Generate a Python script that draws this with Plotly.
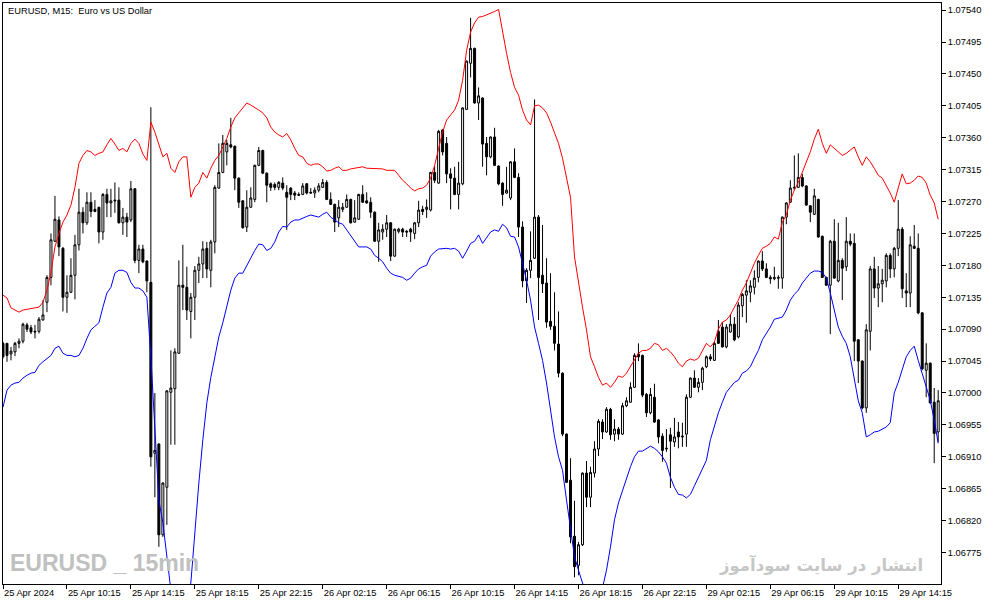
import plotly.graph_objects as go

# ---- data (EURUSD M15) ----
open_ = [1.07070, 1.07070, 1.07055, 1.07058, 1.07070, 1.07073, 1.07096, 1.07092, 1.07087, 1.07087,
         1.07103, 1.07128, 1.07163, 1.07214, 1.07244, 1.07204, 1.07135, 1.07142, 1.07166, 1.07209,
         1.07255, 1.07240, 1.07269, 1.07259, 1.07262, 1.07227, 1.07280, 1.07268, 1.07272, 1.07272,
         1.07240, 1.07248, 1.07244, 1.07288, 1.07187, 1.07203, 1.07186, 1.07156, 1.06915, 1.06928,
         1.06800, 1.06867, 1.07001, 1.07006, 1.07056, 1.07152, 1.07149, 1.07115, 1.07135, 1.07173,
         1.07182, 1.07204, 1.07173, 1.07213, 1.07289, 1.07311, 1.07340, 1.07350, 1.07348, 1.07303,
         1.07271, 1.07234, 1.07262, 1.07273, 1.07321, 1.07342, 1.07310, 1.07295, 1.07294, 1.07290,
         1.07296, 1.07283, 1.07289, 1.07282, 1.07280, 1.07280, 1.07295, 1.07283, 1.07282, 1.07286,
         1.07290, 1.07297, 1.07273, 1.07266, 1.07247, 1.07259, 1.07262, 1.07273, 1.07241, 1.07245,
         1.07280, 1.07271, 1.07269, 1.07255, 1.07214, 1.07227, 1.07231, 1.07240, 1.07193, 1.07228,
         1.07231, 1.07228, 1.07231, 1.07225, 1.07240, 1.07259, 1.07259, 1.07258, 1.07311, 1.07296,
         1.07371, 1.07352, 1.07309, 1.07303, 1.07280, 1.07295, 1.07400, 1.07465, 1.07486, 1.07409,
         1.07416, 1.07352, 1.07333, 1.07361, 1.07320, 1.07296, 1.07282, 1.07275, 1.07326, 1.07304,
         1.07234, 1.07158, 1.07173, 1.07190, 1.07248, 1.07166, 1.07155, 1.07101, 1.07094, 1.07069,
         1.07028, 1.06942, 1.06877, 1.06798, 1.06757, 1.06786, 1.06887, 1.06853, 1.06887, 1.06921,
         1.06959, 1.06945, 1.06977, 1.06942, 1.06949, 1.06942, 1.06982, 1.06987, 1.07008, 1.07055,
         1.07053, 1.06998, 1.06972, 1.06994, 1.06962, 1.06939, 1.06921, 1.06941, 1.06931, 1.06945,
         1.06938, 1.06942, 1.06994, 1.07021, 1.07008, 1.07015, 1.07037, 1.07051, 1.07046, 1.07087,
         1.07093, 1.07065, 1.07086, 1.07097, 1.07079, 1.07123, 1.07138, 1.07142, 1.07149, 1.07163,
         1.07186, 1.07175, 1.07163, 1.07161, 1.07163, 1.07162, 1.07248, 1.07269, 1.07289, 1.07290,
         1.07304, 1.07292, 1.07264, 1.07252, 1.07273, 1.07221, 1.07163, 1.07152, 1.07214, 1.07158,
         1.07187, 1.07178, 1.07214, 1.07211, 1.07075, 1.07045, 1.06979, 1.07087, 1.07175, 1.07148,
         1.07154, 1.07158, 1.07194, 1.07175, 1.07204, 1.07231, 1.07144, 1.07141, 1.07207, 1.07204,
         1.07113, 1.07032, 1.07042, 1.06987, 1.06945]

high = [1.07072, 1.07070, 1.07065, 1.07072, 1.07077, 1.07099, 1.07099, 1.07096, 1.07096, 1.07107,
        1.07131, 1.07166, 1.07225, 1.07278, 1.07249, 1.07206, 1.07166, 1.07190, 1.07223, 1.07288,
        1.07262, 1.07283, 1.07283, 1.07272, 1.07262, 1.07282, 1.07288, 1.07288, 1.07297, 1.07290,
        1.07261, 1.07254, 1.07299, 1.07289, 1.07209, 1.07209, 1.07187, 1.07403, 1.07000, 1.06929,
        1.06874, 1.07004, 1.07060, 1.07063, 1.07187, 1.07209, 1.07178, 1.07141, 1.07179, 1.07192,
        1.07214, 1.07213, 1.07216, 1.07293, 1.07352, 1.07364, 1.07357, 1.07388, 1.07349, 1.07304,
        1.07272, 1.07286, 1.07290, 1.07322, 1.07347, 1.07343, 1.07311, 1.07297, 1.07297, 1.07299,
        1.07304, 1.07293, 1.07290, 1.07285, 1.07283, 1.07296, 1.07296, 1.07289, 1.07290, 1.07296,
        1.07302, 1.07300, 1.07283, 1.07267, 1.07272, 1.07268, 1.07280, 1.07274, 1.07272, 1.07281,
        1.07293, 1.07283, 1.07276, 1.07256, 1.07240, 1.07238, 1.07251, 1.07241, 1.07232, 1.07233,
        1.07233, 1.07230, 1.07233, 1.07241, 1.07271, 1.07264, 1.07273, 1.07312, 1.07320, 1.07371,
        1.07372, 1.07361, 1.07317, 1.07319, 1.07326, 1.07403, 1.07469, 1.07529, 1.07487, 1.07431,
        1.07417, 1.07361, 1.07362, 1.07374, 1.07321, 1.07297, 1.07319, 1.07327, 1.07345, 1.07310,
        1.07242, 1.07176, 1.07228, 1.07414, 1.07251, 1.07237, 1.07190, 1.07169, 1.07142, 1.07115,
        1.07029, 1.06943, 1.06908, 1.06848, 1.06790, 1.06888, 1.06904, 1.06896, 1.06932, 1.06963,
        1.06963, 1.06980, 1.06979, 1.06963, 1.06952, 1.06986, 1.06994, 1.07015, 1.07056, 1.07070,
        1.07054, 1.07000, 1.07007, 1.07013, 1.06963, 1.06943, 1.06949, 1.06951, 1.06965, 1.06959,
        1.06958, 1.06998, 1.07022, 1.07032, 1.07021, 1.07037, 1.07053, 1.07055, 1.07072, 1.07103,
        1.07100, 1.07097, 1.07111, 1.07107, 1.07128, 1.07141, 1.07159, 1.07159, 1.07173, 1.07187,
        1.07200, 1.07183, 1.07166, 1.07178, 1.07166, 1.07249, 1.07269, 1.07300, 1.07335, 1.07338,
        1.07309, 1.07293, 1.07265, 1.07288, 1.07274, 1.07222, 1.07164, 1.07216, 1.07245, 1.07240,
        1.07190, 1.07248, 1.07225, 1.07225, 1.07076, 1.07046, 1.07097, 1.07179, 1.07192, 1.07179,
        1.07175, 1.07197, 1.07197, 1.07206, 1.07272, 1.07234, 1.07169, 1.07221, 1.07237, 1.07225,
        1.07114, 1.07070, 1.07043, 1.07007, 1.07004]

low = [1.07049, 1.07044, 1.07046, 1.07052, 1.07063, 1.07070, 1.07086, 1.07083, 1.07077, 1.07084,
       1.07102, 1.07114, 1.07152, 1.07213, 1.07193, 1.07115, 1.07113, 1.07141, 1.07132, 1.07201,
       1.07225, 1.07237, 1.07248, 1.07255, 1.07211, 1.07216, 1.07248, 1.07248, 1.07254, 1.07239,
       1.07223, 1.07220, 1.07241, 1.07183, 1.07169, 1.07183, 1.07142, 1.06896, 1.06853, 1.06783,
       1.06797, 1.06814, 1.06927, 1.06927, 1.07055, 1.07117, 1.07103, 1.07077, 1.07103, 1.07155,
       1.07162, 1.07162, 1.07149, 1.07197, 1.07288, 1.07310, 1.07321, 1.07345, 1.07286, 1.07261,
       1.07232, 1.07227, 1.07261, 1.07269, 1.07320, 1.07309, 1.07269, 1.07285, 1.07286, 1.07286,
       1.07286, 1.07230, 1.07272, 1.07272, 1.07278, 1.07279, 1.07280, 1.07281, 1.07275, 1.07283,
       1.07289, 1.07272, 1.07265, 1.07227, 1.07234, 1.07255, 1.07261, 1.07239, 1.07240, 1.07244,
       1.07268, 1.07267, 1.07247, 1.07213, 1.07185, 1.07216, 1.07220, 1.07186, 1.07192, 1.07225,
       1.07220, 1.07220, 1.07213, 1.07217, 1.07234, 1.07251, 1.07247, 1.07256, 1.07296, 1.07295,
       1.07335, 1.07296, 1.07259, 1.07279, 1.07259, 1.07293, 1.07399, 1.07445, 1.07408, 1.07385,
       1.07319, 1.07307, 1.07331, 1.07320, 1.07293, 1.07264, 1.07281, 1.07272, 1.07303, 1.07220,
       1.07149, 1.07127, 1.07162, 1.07189, 1.07103, 1.07141, 1.07092, 1.07089, 1.07060, 1.07022,
       1.06939, 1.06873, 1.06788, 1.06740, 1.06743, 1.06784, 1.06839, 1.06839, 1.06881, 1.06911,
       1.06935, 1.06944, 1.06934, 1.06932, 1.06934, 1.06941, 1.06980, 1.06986, 1.07007, 1.07045,
       1.06994, 1.06966, 1.06970, 1.06958, 1.06929, 1.06903, 1.06917, 1.06866, 1.06924, 1.06922,
       1.06924, 1.06924, 1.06993, 1.07007, 1.07001, 1.07004, 1.07035, 1.07045, 1.07045, 1.07069,
       1.07064, 1.07063, 1.07085, 1.07073, 1.07077, 1.07107, 1.07099, 1.07128, 1.07139, 1.07156,
       1.07172, 1.07162, 1.07154, 1.07159, 1.07147, 1.07147, 1.07238, 1.07268, 1.07286, 1.07289,
       1.07290, 1.07264, 1.07241, 1.07251, 1.07219, 1.07162, 1.07151, 1.07083, 1.07161, 1.07156,
       1.07131, 1.07172, 1.07207, 1.07045, 1.07014, 1.06977, 1.06972, 1.07060, 1.07134, 1.07121,
       1.07128, 1.07149, 1.07162, 1.07163, 1.07193, 1.07134, 1.07121, 1.07121, 1.07203, 1.07111,
       1.07032, 1.06994, 1.06985, 1.06901, 1.06931]

close = [1.07051, 1.07053, 1.07059, 1.07070, 1.07073, 1.07097, 1.07090, 1.07086, 1.07086, 1.07104,
         1.07110, 1.07163, 1.07216, 1.07245, 1.07206, 1.07135, 1.07142, 1.07166, 1.07209, 1.07255,
         1.07240, 1.07269, 1.07256, 1.07256, 1.07227, 1.07280, 1.07268, 1.07271, 1.07271, 1.07240,
         1.07248, 1.07241, 1.07288, 1.07187, 1.07203, 1.07185, 1.07158, 1.06910, 1.06919, 1.06800,
         1.06873, 1.07003, 1.07007, 1.07058, 1.07152, 1.07149, 1.07117, 1.07135, 1.07173, 1.07182,
         1.07203, 1.07175, 1.07213, 1.07290, 1.07311, 1.07352, 1.07352, 1.07347, 1.07303, 1.07269,
         1.07233, 1.07262, 1.07275, 1.07321, 1.07342, 1.07310, 1.07293, 1.07290, 1.07290, 1.07297,
         1.07289, 1.07276, 1.07280, 1.07279, 1.07279, 1.07292, 1.07282, 1.07282, 1.07286, 1.07292,
         1.07297, 1.07273, 1.07266, 1.07241, 1.07262, 1.07262, 1.07273, 1.07240, 1.07247, 1.07280,
         1.07269, 1.07268, 1.07255, 1.07214, 1.07230, 1.07231, 1.07240, 1.07193, 1.07231, 1.07231,
         1.07227, 1.07227, 1.07227, 1.07240, 1.07258, 1.07256, 1.07262, 1.07311, 1.07300, 1.07369,
         1.07340, 1.07309, 1.07303, 1.07280, 1.07296, 1.07402, 1.07468, 1.07486, 1.07409, 1.07419,
         1.07351, 1.07333, 1.07361, 1.07321, 1.07295, 1.07280, 1.07286, 1.07326, 1.07304, 1.07234,
         1.07158, 1.07173, 1.07187, 1.07248, 1.07163, 1.07154, 1.07100, 1.07094, 1.07070, 1.07028,
         1.06942, 1.06874, 1.06797, 1.06755, 1.06786, 1.06887, 1.06853, 1.06888, 1.06921, 1.06960,
         1.06945, 1.06977, 1.06941, 1.06949, 1.06942, 1.06982, 1.06989, 1.07008, 1.07053, 1.07051,
         1.06997, 1.06972, 1.06998, 1.06959, 1.06938, 1.06919, 1.06922, 1.06932, 1.06938, 1.06938,
         1.06939, 1.06994, 1.07021, 1.07008, 1.07015, 1.07035, 1.07051, 1.07048, 1.07070, 1.07070,
         1.07065, 1.07093, 1.07097, 1.07075, 1.07124, 1.07139, 1.07144, 1.07151, 1.07162, 1.07186,
         1.07175, 1.07163, 1.07161, 1.07163, 1.07162, 1.07248, 1.07268, 1.07289, 1.07290, 1.07304,
         1.07292, 1.07265, 1.07255, 1.07278, 1.07220, 1.07163, 1.07152, 1.07214, 1.07162, 1.07187,
         1.07176, 1.07214, 1.07210, 1.07073, 1.07045, 1.06979, 1.07089, 1.07175, 1.07148, 1.07154,
         1.07159, 1.07194, 1.07175, 1.07204, 1.07231, 1.07147, 1.07141, 1.07209, 1.07204, 1.07113,
         1.07034, 1.07042, 1.06986, 1.06943, 1.06989]

upper_band = [1.07138, 1.07134, 1.07120, 1.07117, 1.07114, 1.07117, 1.07118, 1.07118, 1.07120, 1.07121,
              1.07128, 1.07145, 1.07170, 1.07206, 1.07225, 1.07241, 1.07251, 1.07265, 1.07290, 1.07324,
              1.07335, 1.07342, 1.07340, 1.07335, 1.07338, 1.07340, 1.07350, 1.07359, 1.07351, 1.07342,
              1.07345, 1.07340, 1.07352, 1.07358, 1.07352, 1.07337, 1.07328, 1.07382, 1.07368, 1.07352,
              1.07333, 1.07338, 1.07317, 1.07311, 1.07326, 1.07333, 1.07333, 1.07276, 1.07290, 1.07296,
              1.07311, 1.07303, 1.07317, 1.07328, 1.07335, 1.07347, 1.07359, 1.07375, 1.07388, 1.07395,
              1.07402, 1.07409, 1.07406, 1.07403, 1.07399, 1.07395, 1.07388, 1.07375, 1.07368, 1.07364,
              1.07361, 1.07366, 1.07357, 1.07345, 1.07335, 1.07333, 1.07324, 1.07321, 1.07323, 1.07323,
              1.07319, 1.07313, 1.07314, 1.07317, 1.07319, 1.07314, 1.07314, 1.07316, 1.07317, 1.07319,
              1.07319, 1.07317, 1.07317, 1.07317, 1.07317, 1.07316, 1.07314, 1.07314, 1.07314, 1.07307,
              1.07300, 1.07295, 1.07289, 1.07285, 1.07288, 1.07289, 1.07293, 1.07303, 1.07321, 1.07345,
              1.07368, 1.07385, 1.07392, 1.07399, 1.07413, 1.07441, 1.07483, 1.07509, 1.07522, 1.07530,
              1.07531, 1.07533, 1.07536, 1.07538, 1.07541, 1.07507, 1.07479, 1.07452, 1.07431, 1.07420,
              1.07399, 1.07385, 1.07378, 1.07405, 1.07406, 1.07402, 1.07395, 1.07382, 1.07366, 1.07352,
              1.07331, 1.07304, 1.07276, 1.07192, 1.07155, 1.07121, 1.07089, 1.07051, 1.07037, 1.07022,
              1.07011, 1.07014, 1.07008, 1.07015, 1.07024, 1.07022, 1.07028, 1.07037, 1.07046, 1.07056,
              1.07060, 1.07060, 1.07063, 1.07070, 1.07068, 1.07060, 1.07063, 1.07058, 1.07051, 1.07042,
              1.07037, 1.07045, 1.07048, 1.07046, 1.07049, 1.07060, 1.07070, 1.07065, 1.07072, 1.07090,
              1.07100, 1.07103, 1.07110, 1.07121, 1.07131, 1.07145, 1.07155, 1.07169, 1.07183, 1.07194,
              1.07204, 1.07207, 1.07211, 1.07220, 1.07217, 1.07241, 1.07251, 1.07272, 1.07286, 1.07297,
              1.07311, 1.07326, 1.07340, 1.07358, 1.07372, 1.07352, 1.07338, 1.07350, 1.07345, 1.07340,
              1.07335, 1.07338, 1.07342, 1.07347, 1.07333, 1.07321, 1.07333, 1.07326, 1.07317, 1.07307,
              1.07303, 1.07293, 1.07282, 1.07269, 1.07290, 1.07309, 1.07295, 1.07296, 1.07300, 1.07306,
              1.07304, 1.07296, 1.07279, 1.07268, 1.07245]

lower_band = [1.06980, 1.07004, 1.07011, 1.07014, 1.07015, 1.07021, 1.07025, 1.07028, 1.07029, 1.07039,
              1.07044, 1.07049, 1.07053, 1.07063, 1.07066, 1.07056, 1.07053, 1.07053, 1.07051, 1.07053,
              1.07063, 1.07077, 1.07089, 1.07094, 1.07099, 1.07121, 1.07141, 1.07149, 1.07169, 1.07173,
              1.07173, 1.07170, 1.07156, 1.07148, 1.07148, 1.07144, 1.07135, 1.07051, 1.06958, 1.06849,
              1.06817, 1.06769, 1.06722, 1.06701, 1.06691, 1.06694, 1.06711, 1.06732, 1.06807, 1.06873,
              1.06934, 1.06986, 1.07022, 1.07051, 1.07079, 1.07099, 1.07121, 1.07145, 1.07162, 1.07169,
              1.07169, 1.07180, 1.07190, 1.07201, 1.07210, 1.07209, 1.07201, 1.07204, 1.07213, 1.07227,
              1.07235, 1.07234, 1.07241, 1.07244, 1.07244, 1.07247, 1.07249, 1.07251, 1.07249, 1.07248,
              1.07252, 1.07255, 1.07248, 1.07244, 1.07240, 1.07238, 1.07230, 1.07223, 1.07214, 1.07206,
              1.07206, 1.07206, 1.07203, 1.07194, 1.07190, 1.07185, 1.07176, 1.07169, 1.07166, 1.07165,
              1.07163, 1.07159, 1.07162, 1.07169, 1.07175, 1.07178, 1.07180, 1.07193, 1.07199, 1.07203,
              1.07204, 1.07204, 1.07203, 1.07204, 1.07200, 1.07190, 1.07200, 1.07211, 1.07214, 1.07223,
              1.07211, 1.07220, 1.07227, 1.07230, 1.07228, 1.07238, 1.07233, 1.07221, 1.07220, 1.07206,
              1.07183, 1.07159, 1.07131, 1.07093, 1.07070, 1.07046, 1.07014, 1.06976, 1.06938, 1.06910,
              1.06891, 1.06849, 1.06811, 1.06769, 1.06750, 1.06732, 1.06719, 1.06711, 1.06708, 1.06714,
              1.06725, 1.06750, 1.06783, 1.06821, 1.06845, 1.06863, 1.06881, 1.06896, 1.06910, 1.06918,
              1.06918, 1.06921, 1.06925, 1.06922, 1.06917, 1.06910, 1.06901, 1.06881, 1.06867, 1.06857,
              1.06856, 1.06852, 1.06857, 1.06869, 1.06881, 1.06891, 1.06905, 1.06934, 1.06955, 1.06972,
              1.06987, 1.07001, 1.07008, 1.07015, 1.07018, 1.07028, 1.07031, 1.07037, 1.07049, 1.07060,
              1.07075, 1.07084, 1.07093, 1.07104, 1.07106, 1.07107, 1.07117, 1.07131, 1.07139, 1.07145,
              1.07155, 1.07162, 1.07169, 1.07172, 1.07172, 1.07170, 1.07162, 1.07141, 1.07117, 1.07093,
              1.07080, 1.07070, 1.07051, 1.07017, 1.06989, 1.06972, 1.06938, 1.06941, 1.06945, 1.06946,
              1.06949, 1.06952, 1.06958, 1.07000, 1.07015, 1.07032, 1.07051, 1.07060, 1.07066, 1.07046,
              1.07028, 1.07008, 1.06990, 1.06962, 1.06929]

time_labels = ["25 Apr 2024", "25 Apr 10:15", "25 Apr 14:15", "25 Apr 18:15", "25 Apr 22:15",
               "26 Apr 02:15", "26 Apr 06:15", "26 Apr 10:15", "26 Apr 14:15", "26 Apr 18:15",
               "26 Apr 22:15", "29 Apr 02:15", "29 Apr 06:15", "29 Apr 10:15", "29 Apr 14:15"]
bars_per_label = 16

price_ticks = ["1.06775", "1.06820", "1.06865", "1.06910", "1.06955", "1.07000", "1.07045",
               "1.07090", "1.07135", "1.07180", "1.07225", "1.07270", "1.07315", "1.07360",
               "1.07405", "1.07450", "1.07495", "1.07540"]

title_text = "EURUSD, M15:\u00a0 Euro vs US Dollar"
watermark_left = "EURUSD _ 15min"
watermark_right = "انتشار در سایت سودآموز"

# ---- figure ----
bars = list(range(len(close)))
FONT = "Liberation Sans, Arial, sans-serif"

fig = go.Figure()
fig.add_trace(go.Scatter(x=bars, y=upper_band, mode="lines",
                         line=dict(color="#ff0000", width=1), hoverinfo="skip"))
fig.add_trace(go.Scatter(x=bars, y=lower_band, mode="lines",
                         line=dict(color="#0000ff", width=1), hoverinfo="skip"))
fig.add_trace(go.Candlestick(
    x=bars, open=open_, high=high, low=low, close=close,
    increasing=dict(line=dict(color="#000000", width=1), fillcolor="#ffffff"),
    decreasing=dict(line=dict(color="#000000", width=1), fillcolor="#000000"),
    whiskerwidth=0,
))

fig.update_layout(
    width=994, height=605,
    margin=dict(l=3, r=53, t=3, b=21),
    paper_bgcolor="#ffffff", plot_bgcolor="#ffffff",
    showlegend=False,
    font=dict(family=FONT, size=9.3, color="#000000"),
    xaxis=dict(
        range=[0, 234.7],
        rangeslider=dict(visible=False),
        showgrid=False, zeroline=False,
        showline=True, linecolor="#000000", linewidth=1, mirror=True,
        ticks="outside", ticklen=4, tickcolor="#000000", tickwidth=1,
        tickmode="array",
        tickvals=[k * bars_per_label for k in range(len(time_labels))],
        ticktext=time_labels,
        ticklabelposition="outside right",
        tickfont=dict(family=FONT, size=9.3, color="#000000"),
    ),
    yaxis=dict(
        range=[1.067306, 1.075500],
        side="right",
        showgrid=False, zeroline=False,
        showline=True, linecolor="#000000", linewidth=1, mirror=True,
        ticks="outside", ticklen=4, tickcolor="#000000", tickwidth=1,
        tickmode="array",
        tickvals=[float(t) for t in price_ticks],
        ticktext=price_ticks,
        tickfont=dict(family=FONT, size=9.3, color="#000000"),
    ),
    annotations=[
        dict(text=title_text, xref="paper", yref="paper", x=0, y=1,
             xanchor="left", yanchor="top", xshift=3, yshift=-1, showarrow=False,
             font=dict(family=FONT, size=9.3, color="#000000")),
        dict(text="<b>" + watermark_left + "</b>", xref="paper", yref="paper",
             x=0.0053, y=0.036, xanchor="left", yanchor="middle", showarrow=False,
             font=dict(family="Liberation Sans Narrow, Arial Narrow, Liberation Sans, Arial",
                       size=23, color="#c0c0c0")),
        dict(text="<b>" + watermark_right + "</b>", xref="paper", yref="paper",
             x=0.983, y=0.033, xanchor="right", yanchor="middle", showarrow=False,
             font=dict(family="DejaVu Sans, Noto Sans, sans-serif", size=16.5,
                       color="#c6c6c6")),
    ],
)

fig.write_html("out.html", config={"displayModeBar": False},
               post_script="document.body.style.margin='0';")
